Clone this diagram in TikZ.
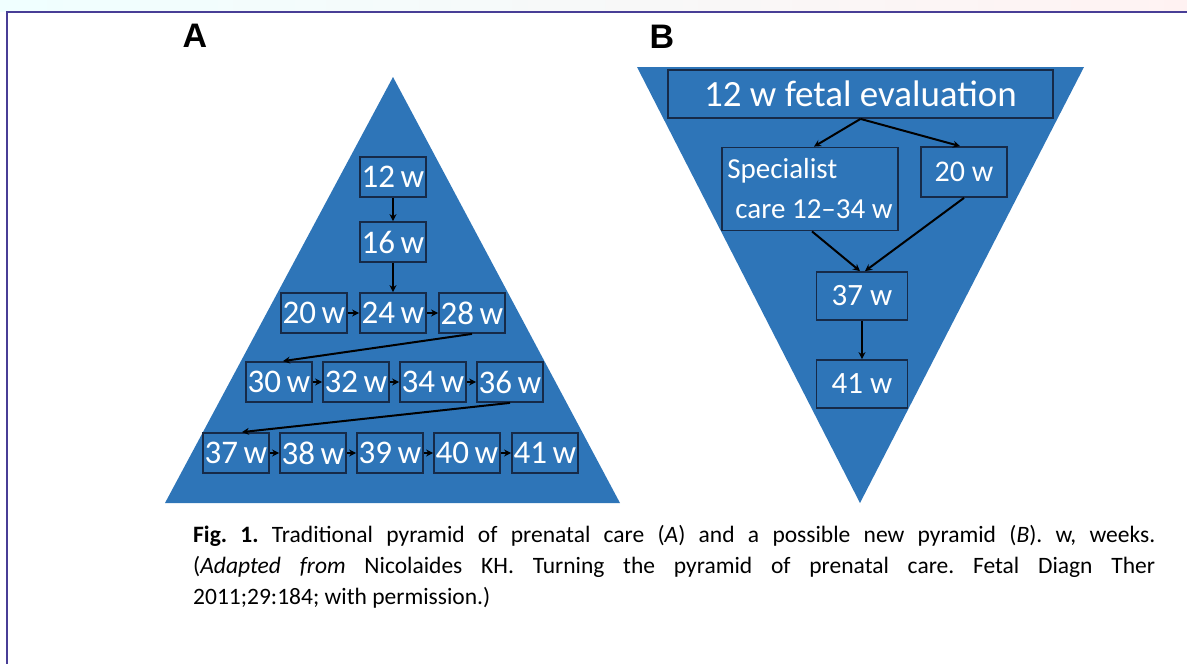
\documentclass[tikz,border=0pt]{standalone}
\usepackage{fontspec}
\setmainfont{Carlito}
\newfontfamily\labfont{Liberation Sans}
\usetikzlibrary{arrows.meta,positioning}
\definecolor{pyrblue}{RGB}{46,117,184}
\definecolor{boxline}{RGB}{22,42,72}
\definecolor{framecol}{RGB}{72,62,150}
\tikzset{
  wbox/.style={rectangle, draw=boxline, line width=1.8pt, fill=pyrblue, text=white, minimum width=66pt, minimum height=40pt, inner sep=0pt, font=\fontsize{33}{36}\selectfont},
  bbox/.style={wbox, minimum width=91pt, minimum height=48pt, font=\fontsize{31}{36}\selectfont},
  arr/.style={-{Stealth[length=7pt,width=7pt]}, line width=2pt, black},
}
\begin{document}
\frenchspacing
\begin{tikzpicture}[x=1pt, y=-1pt]
\useasboundingbox (0,0) rectangle (1187,664);
\shade[left color=cyan!6, right color=red!5] (0,0) rectangle (1187,11);
\draw[framecol, line width=2pt] (7,664) -- (7,12) -- (1187,12);
% panel labels
\node[font=\labfont\bfseries\fontsize{34}{36}\selectfont] (LA) at (195,36) {A};
\node[font=\labfont\bfseries\fontsize{34}{36}\selectfont] (LB) at (662,37) {B};
% pyramid A
\fill[pyrblue] (393,77) -- (620,503) -- (165,503) -- cycle;
\node[wbox] (A12) at (393,177) {12\,w};
\node[wbox] at ([yshift=-65pt]A12.center) (A16) {16\,w};
\node[wbox] at ([yshift=-71pt]A16.center) (A24) {24\,w};
\node[wbox] at ([xshift=-79pt]A24.center) (A20) {20\,w};
\node[wbox] at ([xshift=79pt]A24.center) (A28) {28\,w};
\node[wbox] (A30) at (279,382) {30\,w};
\node[wbox] at ([xshift=77pt]A30.center) (A32) {32\,w};
\node[wbox] at ([xshift=77pt]A32.center) (A34) {34\,w};
\node[wbox] at ([xshift=77pt]A34.center) (A36) {36\,w};
\node[wbox] (A37) at (236,453) {37\,w};
\node[wbox] at ([xshift=77pt]A37.center) (A38) {38\,w};
\node[wbox] at ([xshift=77pt]A38.center) (A39) {39\,w};
\node[wbox] at ([xshift=77pt]A39.center) (A40) {40\,w};
\node[wbox] at ([xshift=78pt]A40.center) (A41) {41\,w};
\draw[arr] (A12) -- (A16);
\draw[arr] (A16) -- (A24);
\draw[arr] (A20) -- (A24);
\draw[arr] (A24) -- (A28);
\draw[arr] (A28.south) -- ([xshift=4pt]A30.north);
\draw[arr] (A30) -- (A32);
\draw[arr] (A32) -- (A34);
\draw[arr] (A34) -- (A36);
\draw[arr] (A36.south) -- ([xshift=6pt]A37.north);
\draw[arr] (A37) -- (A38);
\draw[arr] (A38) -- (A39);
\draw[arr] (A39) -- (A40);
\draw[arr] (A40) -- (A41);
% pyramid B
\fill[pyrblue] (637,67) -- (1084,67) -- (860,503) -- cycle;
\node[wbox, minimum width=385pt, minimum height=48pt, font=\fontsize{37}{40}\selectfont] (Bfetal) at (860.5,94) {12 w fetal evaluation};
\node[wbox, minimum width=176pt, minimum height=83pt, align=left, font=\fontsize{29}{40}\selectfont] (Bspec) at (810,189) {Specialist\\\hspace{8pt}care 12--34 w\hspace{4pt}};
\node[wbox, minimum width=86pt, minimum height=50pt, font=\fontsize{30}{36}\selectfont] (B20) at (964,172) {20 w};
\node[bbox] (B37) at (862,296) {37 w};
\node[bbox] at ([yshift=-88pt]B37.center) (B41) {41 w};
\draw[arr] (Bfetal.south) -- ([xshift=4pt]Bspec.north);
\draw[arr] (Bfetal.south) -- ([xshift=-4pt]B20.north);
\draw[arr] ([xshift=2pt]Bspec.south) -- ([xshift=-2pt]B37.north);
\draw[arr] (B20.south) -- ([xshift=3pt]B37.north);
\draw[arr] (B37) -- (B41);
% caption
\node[anchor=north west, align=left, inner sep=0pt, font=\fontsize{23.5}{31}\selectfont] (cap) at (193,525)
  {\makebox[962pt][s]{\textbf{Fig. 1.} Traditional pyramid of prenatal care (\textit{A}) and a possible new pyramid (\textit{B}). w, weeks.}\\
   \makebox[962pt][s]{(\textit{Adapted from} Nicolaides KH. Turning the pyramid of prenatal care. Fetal Diagn Ther}\\
   2011;29:184; with permission.)};
\end{tikzpicture}
\end{document}
